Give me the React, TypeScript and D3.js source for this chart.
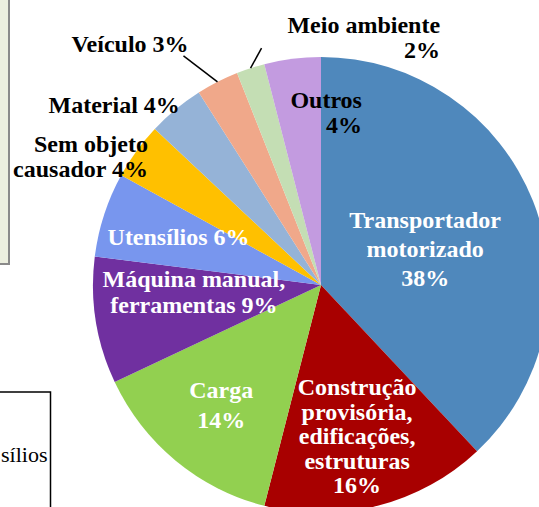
import * as d3 from "d3";
import React from "react";

const categories = [
  "Transportador motorizado",
  "Construção provisória, edificações, estruturas",
  "Carga",
  "Máquina manual, ferramentas",
  "Utensílios",
  "Sem objeto causador",
  "Material",
  "Veículo",
  "Meio ambiente",
  "Outros",
];
const values = [38, 16, 14, 9, 6, 4, 4, 3, 2, 4];
const labelLines = [
  ["Transportador", "motorizado", "38%"],
  ["Construção", "provisória,", "edificações,", "estruturas", "16%"],
  ["Carga", "14%"],
  ["Máquina manual,", "ferramentas 9%"],
  ["Utensílios 6%"],
  ["Sem objeto", "causador 4%"],
  ["Material 4%"],
  ["Veículo 3%"],
  ["Meio ambiente", "2%"],
  ["Outros", "4%"],
];
const colors = [
  "#4f88bc",
  "#a80000",
  "#92d050",
  "#7030a0",
  "#7896ee",
  "#ffc000",
  "#95b3d7",
  "#f0a88a",
  "#c4deb4",
  "#c39be0",
];

// label placement: nudge from centroid of label arc, anchor, line height, fill
const labelStyle: { dx: number; dy: number; anchor: string; lh: number; fill: string }[] = [
  { dx: -40, dy: 0, anchor: "middle", lh: 29, fill: "#fff" },
  { dx: -2.5, dy: -40, anchor: "middle", lh: 24.5, fill: "#fff" },
  { dx: -1, dy: -6, anchor: "middle", lh: 30, fill: "#fff" },
  { dx: 26, dy: -22, anchor: "middle", lh: 26, fill: "#fff" },
  { dx: 5, dy: 8, anchor: "middle", lh: 25, fill: "#fff" },
  { dx: -47.6, dy: -42, anchor: "end", lh: 25, fill: "#000" },
  { dx: -108, dy: -52.6, anchor: "middle", lh: 25, fill: "#000" },
  { dx: -120.6, dy: -95, anchor: "middle", lh: 25, fill: "#000" },
  { dx: 167, dy: -104.6, anchor: "end", lh: 25, fill: "#000" },
  { dx: 60.4, dy: -23.2, anchor: "end", lh: 25, fill: "#000" },
];

// leader lines: offset of the outer end from the slice edge point
const leaders: { [k: number]: [number, number] } = {
  7: [-34, -26],
  8: [11, -20],
};

const App = () => {
  const ref = React.useRef<SVGSVGElement | null>(null);
  const width = 539;
  const height = 507;
  const cx = 321;
  const cy = 285;
  const R = 228;

  const drawElm = (el: SVGSVGElement) => {
    const svg = d3.select(el).attr("width", width).attr("height", height);
    svg.selectAll("*").remove();

    // partial boxes at the left edge
    svg
      .append("rect")
      .attr("x", -10)
      .attr("y", -10)
      .attr("width", 19)
      .attr("height", 274)
      .attr("fill", "#ecefdf")
      .attr("stroke", "#8a8a8a")
      .attr("stroke-width", 2);

    svg
      .append("rect")
      .attr("x", -10)
      .attr("y", 392)
      .attr("width", 60.5)
      .attr("height", 130)
      .attr("fill", "#fff")
      .attr("stroke", "#000")
      .attr("stroke-width", 1.5);

    svg
      .append("text")
      .text("sílios")
      .attr("x", 1)
      .attr("y", 462)
      .attr("text-anchor", "start")
      .attr("font-family", "'Liberation Serif', 'Times New Roman', serif")
      .attr("font-size", 22)
      .attr("fill", "#000");

    const pie = d3
      .pie<number>()
      .sort(null)
      .value((d) => d);
    const arcs = pie(values);

    const arc = d3.arc<d3.PieArcDatum<number>>().innerRadius(0).outerRadius(R);
    const labelArc = d3
      .arc<d3.PieArcDatum<number>>()
      .innerRadius(R * 0.68)
      .outerRadius(R * 0.68);

    const g = svg.append("g").attr("transform", `translate(${cx}, ${cy})`);

    g.selectAll("path")
      .data(arcs)
      .join("path")
      .attr("d", arc)
      .attr("fill", (d, i) => colors[i]);

    // leader lines
    Object.keys(leaders).forEach((k) => {
      const i = +k;
      const a = arcs[i];
      const mid = (a.startAngle + a.endAngle) / 2;
      const [ex, ey] = d3.pointRadial(mid, R);
      const [ox, oy] = leaders[i];
      g.append("line")
        .attr("x1", ex)
        .attr("y1", ey)
        .attr("x2", ex + ox)
        .attr("y2", ey + oy)
        .attr("stroke", "#000")
        .attr("stroke-width", 1.5);
    });

    const labels = g
      .selectAll("text.lbl")
      .data(arcs)
      .join("text")
      .attr("class", "lbl")
      .attr("font-family", "'Liberation Serif', 'Times New Roman', serif")
      .attr("font-weight", "bold")
      .attr("font-size", 24)
      .attr("text-anchor", (d, i) => labelStyle[i].anchor)
      .attr("fill", (d, i) => labelStyle[i].fill);

    labels.each(function (d, i) {
      const [x, y] = labelArc.centroid(d);
      const s = labelStyle[i];
      const t = d3.select(this);
      labelLines[i].forEach((line, j) => {
        t.append("tspan")
          .attr("x", x + s.dx)
          .attr("y", y + s.dy + j * s.lh)
          .text(line);
      });
    });
  };

  React.useEffect(() => {
    if (ref.current) {
      drawElm(ref.current);
    }
  });

  return (
    <svg
      ref={ref}
      width={width}
      height={height}
      style={{ position: "absolute", left: 0, top: 0 }}
      aria-label={categories.join(", ")}
    ></svg>
  );
};

export default App;
